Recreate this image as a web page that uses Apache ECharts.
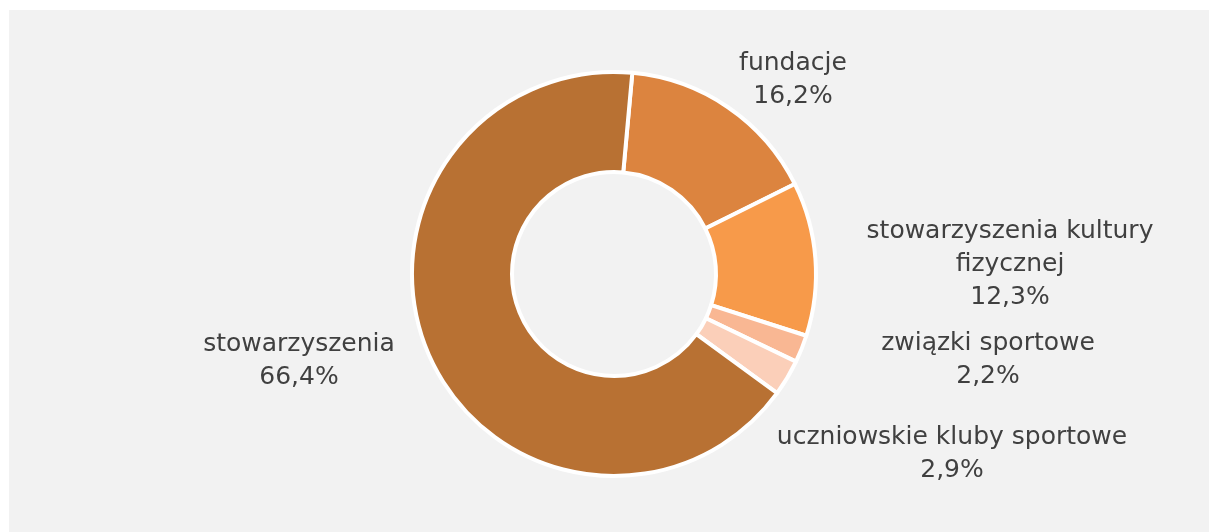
<!DOCTYPE html>
<html>
<head>
<meta charset="utf-8">
<script src="https://cdn.jsdelivr.net/npm/echarts@6/dist/echarts.min.js"></script>
<style>
html,body{margin:0;padding:0;background:#ffffff;}
#chart{width:1209px;height:532px;}
</style>
</head>
<body>
<div id="chart"></div>
<script>
// Data (clockwise from the top)
const categories = ['fundacje', 'stowarzyszenia kultury fizycznej', 'związki sportowe', 'uczniowskie kluby sportowe', 'stowarzyszenia'];
const shares = [16.2, 12.3, 2.2, 2.9, 66.4];
const colors = ['#dc843f', '#f79a4a', '#f9b793', '#fbcfb9', '#b87133'];

// label anchor points (layout, pixels)
const labelAnchors = [[793, 80], [1010, 264], [988, 360], [952, 454], [299, 361]];

const chart = echarts.init(document.getElementById('chart'), null, {renderer: 'canvas'});
const fmt = v => v.toFixed(1).replace('.', ',') + '%';

chart.setOption({
  animation: false,
  backgroundColor: '#ffffff',
  graphic: [{
    type: 'rect', z: -10, silent: true,
    shape: {x: 9, y: 10, width: 1200, height: 522},
    style: {fill: '#f2f2f2'}
  }],
  series: [{
    type: 'pie',
    center: [614, 274],
    radius: [102, 202],
    startAngle: 84.8,
    clockwise: true,
    avoidLabelOverlap: false,
    itemStyle: {borderColor: '#ffffff', borderWidth: 4},
    label: {
      show: true,
      position: 'outside',
      fontFamily: '"DejaVu Sans", sans-serif',
      fontSize: 25,
      lineHeight: 33,
      color: '#404040',
      align: 'center',
      formatter: p => {
        let name = p.name === 'stowarzyszenia kultury fizycznej' ? 'stowarzyszenia kultury\nfizycznej' : p.name;
        return name + '\n' + fmt(p.value);
      }
    },
    labelLine: {show: false},
    labelLayout: p => ({
      x: labelAnchors[p.dataIndex][0],
      y: labelAnchors[p.dataIndex][1],
      align: 'center',
      verticalAlign: 'middle'
    }),
    emphasis: {disabled: true},
    data: categories.map((c, i) => ({name: c, value: shares[i], itemStyle: {color: colors[i]}}))
  }]
});
</script>
</body>
</html>
